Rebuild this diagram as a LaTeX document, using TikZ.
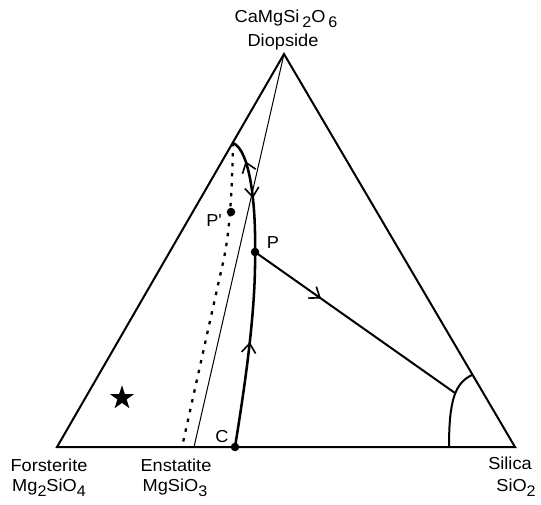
\documentclass[tikz,border=0pt]{standalone}
\usepackage{fontspec}
\setmainfont{Liberation Sans}[FakeStretch=1.05]
\usetikzlibrary{arrows.meta, decorations.markings, shapes.geometric}

\newcommand{\chemsub}[1]{\raisebox{-0.55ex}{\fontsize{11.5}{11.5}\selectfont #1}}

\begin{document}
\begin{tikzpicture}[x=0.75pt, y=-0.75pt, font=\fontsize{13}{15}\selectfont,
    edge/.style={line width=1.5pt, line join=miter},
    cotectic/.style={line width=1.9pt},
    joinline/.style={line width=0.75pt},
    dotline/.style={line width=1.7pt, dash pattern=on 2.6pt off 4.9pt},
    fwdarrow/.style={postaction={decorate, decoration={markings,
        mark=at position #1 with {\arrow{Straight Barb[length=7pt, width=10.5pt, line width=1.2pt]}}}}},
    bckarrow/.style={postaction={decorate, decoration={markings,
        mark=at position #1 with {\arrowreversed{Straight Barb[length=7pt, width=10.5pt, line width=1.2pt]}}}}}]
    \useasboundingbox (0,0) rectangle (541,504);

    % Corners of the triangle
    \coordinate (Di) at (284,54);
    \coordinate (Fo) at (57,447);
    \coordinate (Si) at (515,447);
    \coordinate (En) at (194,447);

    % Points on the boundaries
    \coordinate (T) at (233,143);
    \coordinate (P) at (255,252);
    \coordinate (Pp) at (231,212);
    \coordinate (C) at (235,447);
    \coordinate (R) at (455,393);
    \coordinate (B) at (449,447);
    \coordinate (E) at (472,375);
    \coordinate (Ed) at (182,447);

    % Triangle
    \draw[edge] (Fo) -- (Di) -- (Si) -- cycle;

    % Diopside - enstatite join
    \draw[joinline] (Di) -- (En);

    % Dotted boundary through P'
    \draw[dotline] (T) .. controls (232,190) and (230,235) .. (222,267) -- (Ed);

    % Boundary curves
    \draw[cotectic, bckarrow=0.2, fwdarrow=0.53] (T) .. controls (250,150) and (256,205) .. (P);
    \draw[cotectic, fwdarrow=0.54] (C) .. controls (245,385) and (256,310) .. (P);
    \draw[edge, fwdarrow=0.33] (P) -- (R);
    \draw[edge] (B) .. controls (449,400) and (455,383) .. (E);

    % Points
    \fill (P) circle (3.2pt);
    \fill (Pp) circle (3.2pt);
    \fill (C) circle (3.2pt);
    \node (Plabel) at (273,243) {P};
    \node (Pplabel) at (214,221) {P\textquotesingle};
    \node (Clabel) at (222,437) {C};

    % Star
    \node (star) [star, star points=5, star point ratio=2.6, fill, inner sep=0pt, minimum size=19pt] at (122,398) {};

    % Corner labels
    \node (dicomp) at (286,19) {CaMgSi\,\chemsub{2}O\,\chemsub{6}};
    \node (diname) at (283,42) {Diopside};
    \node (foname) at (49,465) {Forsterite};
    \node (focomp) at (49,488) {Mg\chemsub{2}SiO\chemsub{4}};
    \node (enname) at (176,465) {Enstatite};
    \node (encomp) at (175,488) {MgSiO\chemsub{3}};
    \node (siname) at (510,463) {Silica};
    \node (sicomp) at (516,488) {SiO\chemsub{2}};
\end{tikzpicture}
\end{document}
